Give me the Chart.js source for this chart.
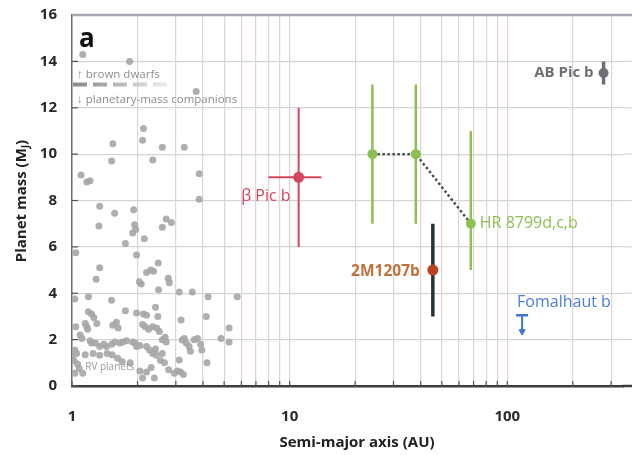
<!DOCTYPE html>
<html><head><meta charset="utf-8">
<script src="https://cdn.jsdelivr.net/npm/chart.js@4/dist/chart.umd.min.js"></script>
<style>html,body{margin:0;padding:0;background:#fff}#wrap{width:632px;height:455px}</style>
</head><body><div id="wrap"><canvas id="c" width="632" height="455"></canvas></div>
<script>
// ---- Data ----
// RV planets (semi-major axis AU, mass MJ)
const rvA = [1.12,1.84,3.72,2.13,2.11,1.54,2.60,3.28,2.35,1.52,3.84,1.10,1.17,1.21,3.84,1.34,1.57,1.92,1.33,1.94,1.90,1.96,2.15,1.76,2.60,2.71,2.86,1.04,1.98,1.34,1.29,2.20,2.30,2.37,2.49,2.04,2.08,2.77,2.80,2.50,3.11,3.57,1.19,1.52,4.22,5.74,1.03,
 1.19,1.23,1.26,1.76,1.98,2.13,2.20,2.42,2.48,3.17,4.14,5.27,5.27,4.84,1.04,1.15,1.17,1.18,1.30,1.54,1.60,1.63,2.11,2.17,2.25,2.35,2.45,2.52,1.09,1.11,1.21,1.23,1.28,1.34,1.40,1.44,1.52,1.57,1.66,1.71,1.78,1.90,1.95,1.98,2.05,2.20,2.27,2.35,2.42,2.60,2.68,2.71,3.21,3.28,3.35,3.45,3.50,3.64,3.77,3.90,3.95,
 1.03,1.00,1.02,1.05,1.06,1.08,1.03,1.12,1.15,1.25,1.34,1.45,1.53,1.62,1.70,1.85,2.44,2.55,2.60,2.66,2.31,2.05,2.11,2.39,2.20,2.95,3.05,3.15,3.25,3.11,4.17,2.78];
const rvM = [14.3,14.0,12.7,11.1,10.6,10.45,10.3,10.3,9.75,9.7,9.15,9.1,8.8,8.85,8.05,7.75,7.45,7.6,6.9,6.95,6.6,6.75,6.35,6.15,6.85,7.2,7.05,5.75,5.65,5.1,4.6,4.9,5.0,4.95,5.3,4.5,4.4,4.65,4.45,4.15,4.05,4.05,3.85,3.7,3.85,3.85,3.75,
 3.2,3.1,2.95,3.25,3.15,3.1,3.05,3.4,3.0,2.85,3.0,2.5,1.9,2.05,2.55,2.7,2.55,2.45,2.7,2.62,2.75,2.5,2.65,2.55,2.45,2.55,2.5,2.35,2.2,2.05,1.95,1.85,1.85,1.7,1.8,1.7,1.8,1.9,1.85,1.9,1.95,1.9,1.85,1.7,1.75,1.7,1.55,1.4,1.6,2.0,2.1,1.9,1.98,2.05,1.85,1.7,1.5,2.0,2.05,1.8,1.55,
 1.55,1.25,1.1,1.4,0.95,0.75,0.55,0.55,1.35,1.4,1.33,1.4,1.35,1.2,1.05,1.0,1.33,1.1,1.4,1.0,0.8,0.65,0.35,0.35,0.6,0.55,0.65,0.6,0.5,1.12,1.0,0.7];

// Directly imaged planets
const bpA = [11], bpAlo = [8], bpAhi = [14], bpM = [9], bpMlo = [6], bpMhi = [12];
const hrA = [24, 38, 68], hrM = [10, 10, 7], hrMlo = [7, 7, 5], hrMhi = [13, 13, 11];
const twoA = [45.5], twoM = [5], twoMlo = [3], twoMhi = [7];
const abA = [277], abM = [13.5], abMlo = [13.0], abMhi = [14.0];
const fomA = [117], fomMup = [3.05], fomMarrow = [2.35];
const names = ['β Pic b', 'HR 8799d,c,b', '2M1207b', 'Fomalhaut b', 'AB Pic b'];

// Axis ticks
const xTickVals = [1,2,3,4,5,6,7,8,9,10,20,30,40,50,60,70,80,90,100,200,300];
const xTickLabels = ['1','10','100'];
const yTickVals = [0,2,4,6,8,10,12,14,16];

// ---- Build datasets ----
const RED = '#d2475d', GREEN = '#8cc152', DARK = '#27323a', BROWN = '#b9431f', BLUE = '#3f74d6', GRAYD = '#6c7076';
function seg(x1, y1, x2, y2, color, w, extra) {
  return Object.assign({type:'line', data:[{x:x1,y:y1},{x:x2,y:y2}], borderColor:color, borderWidth:w,
    pointRadius:0, showLine:true, fill:false, order:5}, extra || {});
}
const datasets = [];
datasets.push({type:'scatter', data: rvA.map((a,i)=>({x:a, y:rvM[i]})), backgroundColor:'rgba(166,166,169,0.9)',
  borderWidth:0, pointRadius:3.5, order:10});
// β Pic b
datasets.push(seg(bpA[0], bpMlo[0], bpA[0], bpMhi[0], RED, 2));
datasets.push(seg(bpAlo[0], bpM[0], bpAhi[0], bpM[0], RED, 2));
datasets.push({type:'scatter', data:[{x:bpA[0], y:bpM[0]}], backgroundColor:RED, borderWidth:0, pointRadius:5.5, order:1});
// HR 8799
hrA.forEach((a,i)=>datasets.push(seg(a, hrMlo[i], a, hrMhi[i], GREEN, 2.5)));
datasets.push({type:'line', data: hrA.map((a,i)=>({x:a, y:hrM[i]})), borderColor:'#4b4f52', borderWidth:2.5,
  borderDash:[2.5,2.5], pointRadius:5, pointBackgroundColor:GREEN, pointBorderWidth:0, showLine:true, fill:false, order:2});
// 2M1207b
datasets.push(seg(twoA[0], twoMlo[0], twoA[0], twoMhi[0], DARK, 3.5));
datasets.push({type:'scatter', data:[{x:twoA[0], y:twoM[0]}], backgroundColor:BROWN, borderWidth:0, pointRadius:5.5, order:1});
// AB Pic b
datasets.push(seg(abA[0], abMlo[0], abA[0], abMhi[0], GRAYD, 3.5));
datasets.push({type:'scatter', data:[{x:abA[0], y:abM[0]}], backgroundColor:GRAYD, borderWidth:0, pointRadius:5, order:1});
// Fomalhaut b upper limit
datasets.push({type:'line', data:[{x:fomA[0], y:fomMup[0]},{x:fomA[0], y:fomMarrow[0]}], borderColor:BLUE, borderWidth:2,
  showLine:true, fill:false, pointStyle:['line','triangle'], rotation:[0,180], pointRadius:[6,3.5],
  pointBorderColor:BLUE, pointBackgroundColor:BLUE, pointBorderWidth:[2.5,1], order:1});

// ---- Plugins ----
const decor = {
  id:'decor',
  beforeDatasetsDraw(chart) {
    const {ctx, chartArea:ca, scales:{x, y}} = chart;
    ctx.save();
    // legend dashed divider at 13 MJ
    const yy = y.getPixelForValue(13);
    const x0 = x.getPixelForValue(1.0) + 1, x1 = x.getPixelForValue(2.8);
    const g = ctx.createLinearGradient(x0, 0, x1, 0);
    g.addColorStop(0, '#858a8f'); g.addColorStop(1, '#eeeeee');
    ctx.strokeStyle = g; ctx.lineWidth = 4; ctx.setLineDash([14, 6]);
    ctx.beginPath(); ctx.moveTo(x0, yy); ctx.lineTo(x1, yy); ctx.stroke();
    ctx.setLineDash([]);
    // horizontal gridlines continue to the right edge of the panel
    ctx.strokeStyle = '#d5d5d7'; ctx.lineWidth = 1.2;
    yTickVals.forEach(v => { const p = y.getPixelForValue(v); ctx.beginPath(); ctx.moveTo(ca.right, p); ctx.lineTo(chart.width, p); ctx.stroke(); });
    // inner tick marks
    ctx.strokeStyle = '#555'; ctx.lineWidth = 1.2;
    yTickVals.forEach(v => { const p = y.getPixelForValue(v); ctx.beginPath(); ctx.moveTo(ca.left, p); ctx.lineTo(ca.left + 6, p); ctx.stroke(); });
    xTickVals.forEach(v => { const p = x.getPixelForValue(v); ctx.beginPath(); ctx.moveTo(p, ca.bottom); ctx.lineTo(p, ca.bottom - 5); ctx.stroke(); });
    ctx.restore();
  },
  afterDraw(chart) {
    const {ctx, chartArea:ca, scales:{x, y}} = chart;
    ctx.save();
    // top border and bottom axis extended to the panel edge
    ctx.strokeStyle = '#a2a7ad'; ctx.lineWidth = 2.5;
    ctx.beginPath(); ctx.moveTo(ca.left, ca.top); ctx.lineTo(chart.width, ca.top); ctx.stroke();
    ctx.strokeStyle = '#3d3d3d';
    ctx.beginPath(); ctx.moveTo(ca.right - 1, ca.bottom); ctx.lineTo(chart.width, ca.bottom); ctx.stroke();
    // panel letter
    ctx.fillStyle = '#111'; ctx.font = 'bold 26px "Open Sans"'; ctx.textBaseline = 'alphabetic'; ctx.textAlign = 'left';
    ctx.fillText('a', ca.left + 7, ca.top + 32);
    // legend texts
    ctx.fillStyle = '#8a8d91'; ctx.font = '11.5px "Open Sans"';
    ctx.textBaseline = 'middle';
    ctx.fillText('↑ brown dwarfs', ca.left + 5, y.getPixelForValue(13) - 10);
    ctx.fillText('↓ planetary-mass companions', ca.left + 5, y.getPixelForValue(13) + 15);
    ctx.fillStyle = '#9a9a9a'; ctx.font = '10px "Open Sans"';
    ctx.fillText('RV planets', x.getPixelForValue(1.15), y.getPixelForValue(0.8));
    // planet labels
    const lab = (t, a, m, dx, dy, color, font, align) => {
      ctx.fillStyle = color; ctx.font = font; ctx.textAlign = align; ctx.textBaseline = 'middle';
      ctx.fillText(t, x.getPixelForValue(a) + dx, y.getPixelForValue(m) + dy);
    };
    lab(names[0], bpA[0], bpM[0], -8, 19, RED, '16px "Open Sans"', 'right');
    lab(names[1], hrA[2], hrM[2], 9, 0, GREEN, '16px "Open Sans"', 'left');
    lab(names[2], twoA[0], twoM[0], -13, 2, '#c0713a', 'bold 15.5px "Open Sans"', 'right');
    lab(names[3], fomA[0], fomMup[0], -5, -13, '#4a7fd8', '16px "Open Sans"', 'left');
    lab(names[4], abA[0], abM[0], -10, 0, GRAYD, 'bold 15px "Open Sans"', 'right');
    // axis titles
    ctx.fillStyle = '#222'; ctx.textAlign = 'center'; ctx.textBaseline = 'middle';
    ctx.font = 'bold 15px "Open Sans"';
    ctx.fillText('Semi-major axis (AU)', 357, 443);
    ctx.translate(22, 201); ctx.rotate(-Math.PI / 2);
    const t1 = 'Planet mass (M', t2 = 'J', t3 = ')';
    ctx.font = 'bold 15px "Open Sans"';
    const w1 = ctx.measureText(t1).width, w3 = ctx.measureText(t3).width;
    ctx.font = 'bold 10px "Open Sans"';
    const w2 = ctx.measureText(t2).width;
    const tot = w1 + w2 + w3;
    ctx.textAlign = 'left';
    ctx.font = 'bold 15px "Open Sans"';
    ctx.fillText(t1, -tot / 2, 0);
    ctx.font = 'bold 10px "Open Sans"';
    ctx.fillText(t2, -tot / 2 + w1, 4);
    ctx.font = 'bold 15px "Open Sans"';
    ctx.fillText(t3, -tot / 2 + w1 + w2, 0);
    ctx.restore();
  }
};

new Chart(document.getElementById('c'), {
  type: 'scatter',
  data: { datasets },
  options: {
    responsive: false, animation: false, devicePixelRatio: 1,
    layout: { padding: { top: 15, right: 0, left: 0, bottom: 0 } },
    plugins: { legend: { display: false }, tooltip: { enabled: false } },
    scales: {
      x: {
        type: 'logarithmic', min: 1, max: 342, position: 'bottom',
        afterFit(s) { s.height = 69; s.paddingLeft = 0; s.paddingRight = 0; },
        afterBuildTicks(s) { s.ticks = xTickVals.map(v => ({ value: v })); },
        ticks: { autoSkip: false, maxRotation: 0, padding: 22, color: '#2a2a2a',
          font: { family: 'Open Sans', weight: 'bold', size: 15 },
          callback: (v) => { const s = String(v); return xTickLabels.includes(s) ? s : ''; } },
        grid: { color: '#e3d3d8', lineWidth: 1.2, drawTicks: false },
        border: { display: true, color: '#3d3d3d', width: 2.5 }
      },
      y: {
        type: 'linear', min: 0, max: 16,
        afterFit(s) { s.width = 72; s.paddingTop = 0; s.paddingBottom = 0; },
        afterBuildTicks(s) { s.ticks = yTickVals.map(v => ({ value: v })); },
        ticks: { padding: 15, color: '#2a2a2a', font: { family: 'Open Sans', weight: 'bold', size: 15 } },
        grid: { color: '#d5d5d7', lineWidth: 1.2, drawTicks: false },
        border: { display: true, color: '#6e6e6e', width: 1.5 }
      }
    }
  },
  plugins: [decor]
});
</script>
</body></html>
